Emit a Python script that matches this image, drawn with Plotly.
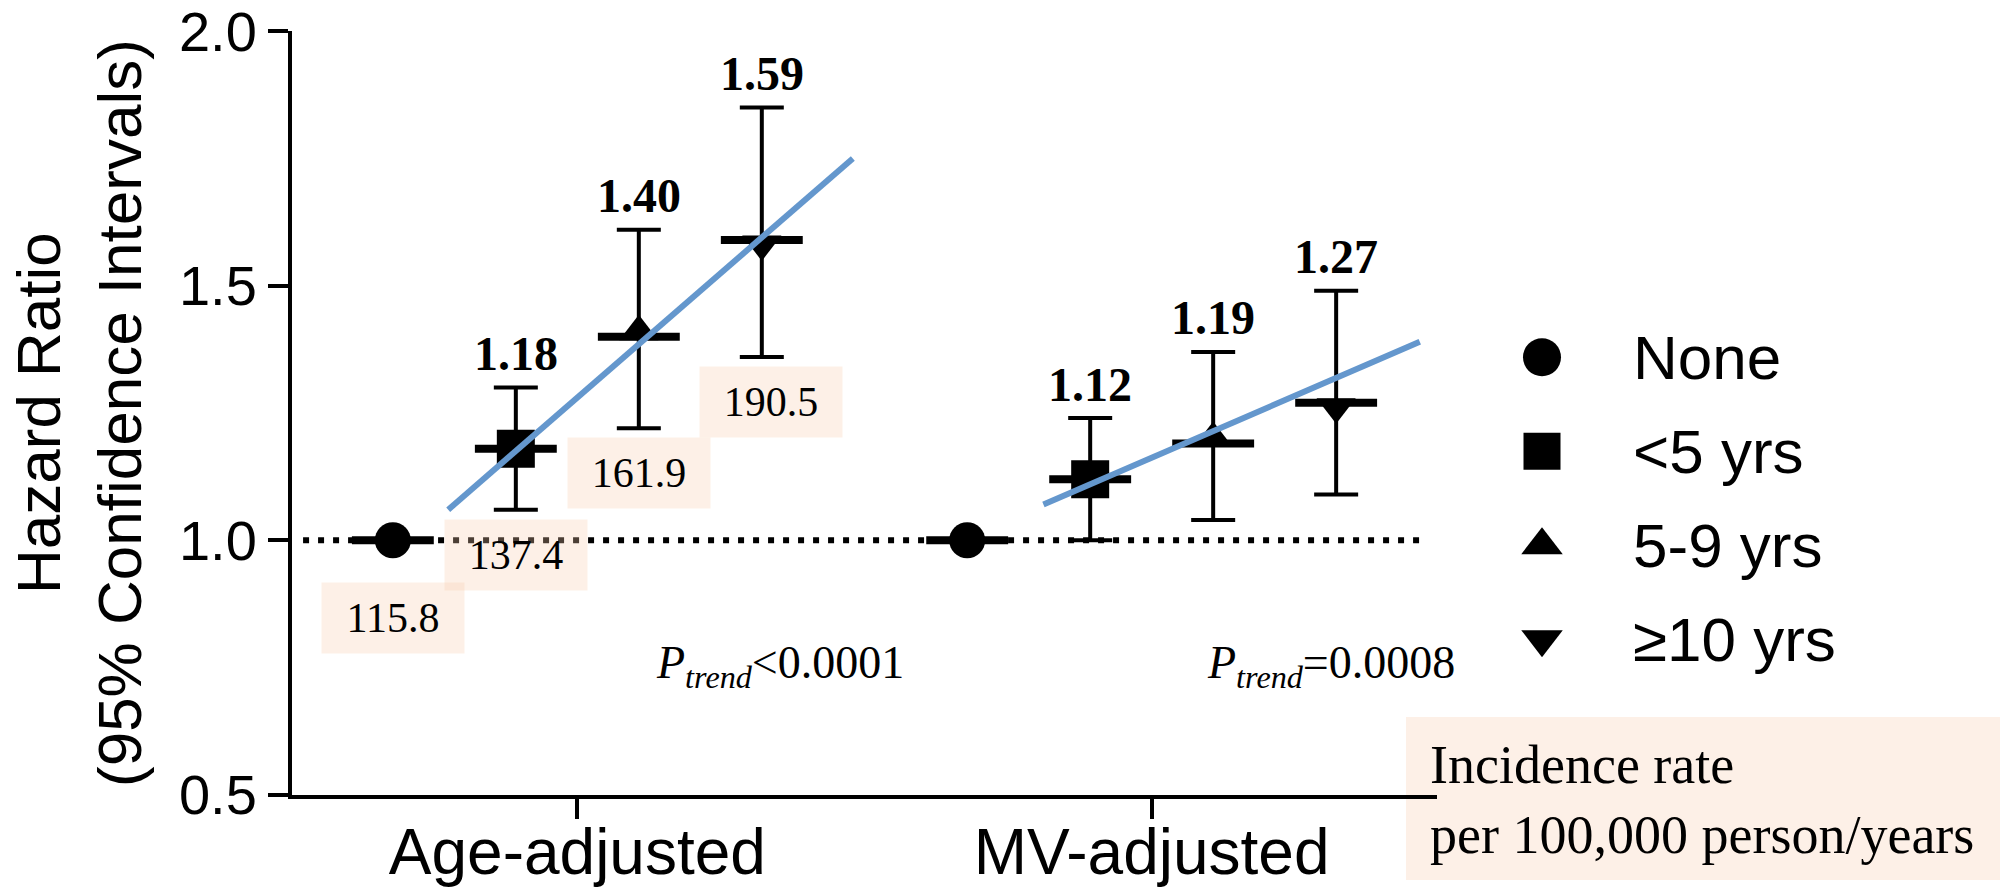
import numpy as np
import plotly.graph_objects as go

# ---------------- data ----------------
groups = ["Age-adjusted", "MV-adjusted"]
levels = ["None", "<5 yrs", "5-9 yrs", "≥10 yrs"]

hr_age = [1.00, 1.18, 1.40, 1.59]
ci_low_age = [None, 1.06, 1.22, 1.36]
ci_high_age = [None, 1.30, 1.61, 1.85]

hr_mv = [1.00, 1.12, 1.19, 1.27]
ci_low_mv = [None, 1.00, 1.04, 1.09]
ci_high_mv = [None, 1.24, 1.37, 1.49]

incidence_age = [115.8, 137.4, 161.9, 190.5]
p_trend = ["<0.0001", "=0.0008"]

# trend line values (HR at the two ends)
trend_hr_start = [1.06, 1.07]
trend_hr_end = [1.75, 1.39]

y_ticks = [0.5, 1.0, 1.5, 2.0]

# ---------------- layout constants ----------------
W, H = 2000, 891
ML, MR, MT, MB = 292, 0, 31, 96
PLOT_W = W - ML - MR
PLOT_H = H - MT - MB
MAIN_FRAC = 1145 / PLOT_W
GROUP_GAP = 4.67
X_RANGE = [-2.32, 6.99]
# (symbol, angle, standoff) so that the triangles sit centred on the HR bar
SYMBOLS = ["circle", "square", "triangle-down", "triangle-down"]
ANGLES = [0, 0, 180, 0]
STANDOFF = [0, 0, 5, 4]
SIZES = [36, 38, 34, 34]
LEG_SYMBOLS = ["circle", "square", "triangle-up", "triangle-down"]
LEG_SIZES = [38, 37, 36, 36]
BLUE = "#6497CD"
BOX = "rgba(247, 205, 175, 0.30)"
SANS = "Liberation Sans"
SERIF = "Liberation Serif"
trend_pad_left = [0.55, 0.38]
trend_pad_right = [0.74, 0.68]


def xpos(g, k):
    return g * GROUP_GAP + (k - 1.5)


hr_all = [hr_age, hr_mv]
lo_all = [ci_low_age, ci_low_mv]
hi_all = [ci_high_age, ci_high_mv]

fig = go.Figure()

# markers with CI error bars
for k, lev in enumerate(levels):
    xs = [xpos(g, k) for g in range(len(groups))]
    ys = [hr_all[g][k] for g in range(len(groups))]
    has_ci = lo_all[0][k] is not None
    err = dict(visible=False)
    if has_ci:
        err = dict(type="data", symmetric=False,
                   array=[hi_all[g][k] - hr_all[g][k] for g in range(len(groups))],
                   arrayminus=[hr_all[g][k] - lo_all[g][k] for g in range(len(groups))],
                   thickness=4, width=22, color="#000000")
    fig.add_trace(go.Scatter(x=xs, y=ys, mode="markers", name=lev,
                             marker=dict(symbol=SYMBOLS[k], size=SIZES[k], color="#000000",
                                         angle=ANGLES[k], standoff=STANDOFF[k],
                                         opacity=1, line=dict(width=0)),
                             error_y=err, cliponaxis=False))

# horizontal HR bars
bx, by = [], []
for g in range(len(groups)):
    for k in range(len(levels)):
        bx.append(xpos(g, k))
        by.append(hr_all[g][k])
fig.add_trace(go.Scatter(x=bx, y=by, mode="markers",
                         marker=dict(symbol="line-ew", size=58.5, opacity=1,
                                     line=dict(width=8, color="#000000")),
                         cliponaxis=False))

# trend lines
for g in range(len(groups)):
    fig.add_trace(go.Scatter(
        x=[xpos(g, 1) - trend_pad_left[g], xpos(g, 3) + trend_pad_right[g]],
        y=[trend_hr_start[g], trend_hr_end[g]],
        mode="lines", line=dict(color=BLUE, width=6), cliponaxis=False))

# custom legend (separate invisible axes on the right)
LEG_X, LEG_Y0, LEG_DY, LEG_TX = 0.1865, 0.573, 0.1230, 0.3446
for i, lev in enumerate(levels):
    fig.add_trace(go.Scatter(
        x=[LEG_X], y=[LEG_Y0 - i * LEG_DY],
        mode="markers", xaxis="x2", yaxis="y2", name=lev,
        marker=dict(symbol=LEG_SYMBOLS[i], size=LEG_SIZES[i], color="#000000",
                    opacity=1, line=dict(width=0)),
        cliponaxis=False))

annotations = []
for i, lev in enumerate(levels):
    annotations.append(dict(x=LEG_TX, y=LEG_Y0 - i * LEG_DY, xref="x2", yref="y2",
                            text=lev, showarrow=False, xanchor="left", yanchor="middle",
                            font=dict(family=SANS, size=62, color="black")))

# HR value labels
for g in range(len(groups)):
    for k in range(1, len(levels)):
        annotations.append(dict(x=xpos(g, k), y=hi_all[g][k], xref="x", yref="y",
                                text=f"<b>{hr_all[g][k]:.2f}</b>", showarrow=False,
                                yanchor="middle", yshift=34,
                                font=dict(family=SERIF, size=48, color="black")))

# incidence rate boxes (age-adjusted)
inc_xshift = [0, 0, 0, 9]
for k, val in enumerate(incidence_age):
    if k == 0:
        yv, ys = hr_age[0], -78
    else:
        yv, ys = ci_low_age[k], -45
    annotations.append(dict(x=xpos(0, k), y=yv, xref="x", yref="y",
                            text=f"{val:.1f}", showarrow=False, yanchor="middle",
                            yshift=ys, xshift=inc_xshift[k],
                            bgcolor=BOX, width=142, height=70, borderpad=0,
                            font=dict(family=SERIF, size=42, color="black")))

# P-trend labels
p_pos = [(0.62, 0.752), (0.43, 0.752)]
for g in range(len(groups)):
    annotations.append(dict(x=g * GROUP_GAP + p_pos[g][0], y=p_pos[g][1], xref="x", yref="y",
                            text="<i>P</i><sub><i>trend</i></sub>" + p_trend[g].replace("<", "&lt;"),
                            showarrow=False, xanchor="left", yanchor="middle",
                            font=dict(family=SERIF, size=46, color="black")))

# incidence rate legend box text
annotations.append(dict(x=(1428 - ML) / PLOT_W, y=(H - MB - 800) / PLOT_H,
                        xref="paper", yref="paper",
                        text="Incidence rate<br>per 100,000 person/years",
                        showarrow=False, xanchor="left", yanchor="middle", align="left",
                        font=dict(family=SERIF, size=54, color="black")))

# y-axis title
annotations.append(dict(x=(79 - ML) / PLOT_W, y=0.5, xref="paper", yref="paper",
                        text="Hazard Ratio<br>(95% Confidence Intervals)", textangle=-90,
                        showarrow=False, xanchor="center", yanchor="middle",
                        font=dict(family=SANS, size=62, color="black")))

shapes = [
    dict(type="line", xref="x", yref="y", x0=X_RANGE[0] + 0.09, x1=X_RANGE[1] - 0.08,
         y0=1.0, y1=1.0, line=dict(color="black", width=6, dash="6px,9px"), layer="below"),
    dict(type="rect", xref="paper", yref="paper",
         x0=(1406 - ML) / PLOT_W, x1=1.0,
         y0=(H - MB - 880) / PLOT_H, y1=(H - MB - 717) / PLOT_H,
         fillcolor=BOX, line=dict(width=0), layer="below"),
]

fig.update_layout(
    width=W, height=H, autosize=False,
    margin=dict(l=ML, r=MR, t=MT, b=MB, pad=0, autoexpand=False),
    showlegend=False, plot_bgcolor="white", paper_bgcolor="white",
    xaxis=dict(domain=[0, MAIN_FRAC], range=X_RANGE, showgrid=False, zeroline=False,
               automargin=False,
               showline=True, linecolor="black", linewidth=4,
               tickvals=[g * GROUP_GAP for g in range(len(groups))], ticktext=groups,
               ticks="outside", ticklen=20, tickwidth=4, tickcolor="black",
               ticklabelstandoff=-22,
               tickfont=dict(family=SANS, size=64, color="black")),
    yaxis=dict(range=[0.4995, 2.0005], showgrid=False, zeroline=False,
               automargin=False,
               showline=True, linecolor="black", linewidth=4,
               tickvals=y_ticks, ticktext=[f"{v:.1f}" for v in y_ticks],
               ticks="outside", ticklen=20, tickwidth=4, tickcolor="black",
               ticklabeloverflow="allow",
               tickfont=dict(family=SANS, size=56, color="black")),
    xaxis2=dict(domain=[MAIN_FRAC, 1.0], range=[0, 1], visible=False, anchor="y2",
                automargin=False),
    yaxis2=dict(domain=[0, 1], range=[0, 1], visible=False, anchor="x2",
                automargin=False),
    annotations=annotations, shapes=shapes,
)

post = (
    "var de=document.documentElement, b=document.body;"
    "de.style.margin='0px'; de.style.overflow='hidden';"
    "b.style.margin='0px'; b.style.overflow='hidden';"
)

fig.write_html("out.html", config={"displayModeBar": False}, post_script=post)
